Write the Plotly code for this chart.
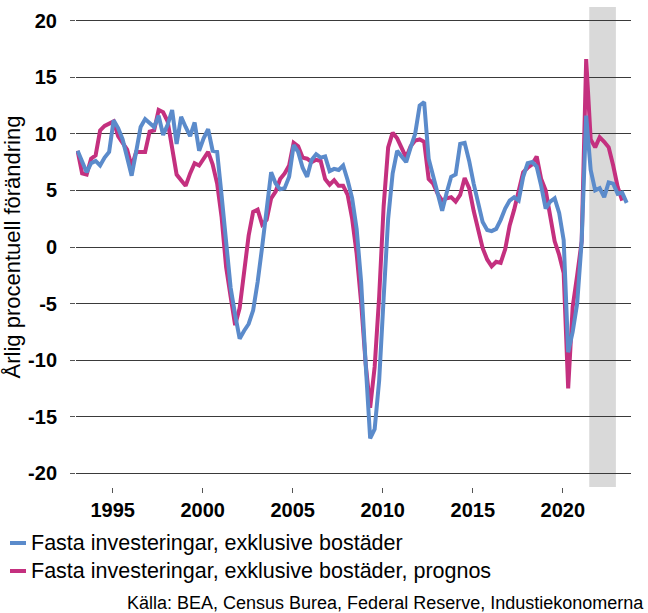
import plotly.graph_objects as go

# Quarterly data, 1993Q1 onwards
start_year = 1993
blue_name = "Fasta investeringar, exklusive bostäder"
pink_name = "Fasta investeringar, exklusive bostäder, prognos"

blue_vals = [
    8.5, 7.5, 6.6, 7.4, 7.6, 7.2, 7.9, 8.4, 11.2, 10.5,
    9.5, 7.9, 6.3, 8.4, 10.6, 11.3, 11.0, 10.6, 11.6, 9.9,
    10.8, 12.1, 9.1, 11.5, 10.6, 9.8, 11.0, 8.5, 9.6, 10.4,
    8.5, 8.4, 4.5, 0.0, -3.6, -6.0, -8.1, -7.4, -6.8, -5.6,
    -3.1, 0.0, 3.4, 6.6, 5.6, 5.1, 5.2, 6.2, 9.0, 8.4,
    7.0, 6.2, 7.7, 8.2, 7.9, 8.0, 6.7, 6.9, 6.8, 7.2,
    5.9, 4.3, 1.6, -3.1, -10.3, -16.9, -16.1, -11.8, -4.5, 2.5,
    6.5, 8.5, 8.0, 7.5, 8.8, 10.0, 12.5, 12.8, 7.8, 6.2,
    4.8, 3.2, 4.8, 6.2, 6.4, 9.1, 9.2, 7.6, 5.6, 3.8,
    2.2, 1.5, 1.4, 1.6, 2.4, 3.4, 4.1, 4.4, 4.1, 6.2,
    7.4, 7.5, 7.1, 5.4, 3.4, 4.0, 4.3, 3.0, 0.6, -9.3,
    -7.5, -5.0, 0.5, 11.6, 6.8, 5.0, 5.2, 4.4, 5.7, 5.6,
    4.7, 4.8, 3.9,
]

pink_vals = [
    8.5, 6.5, 6.4, 7.8, 8.1, 10.3, 10.7, 10.9, 11.1, 9.8,
    9.2, 8.6, 7.1, 8.4, 8.4, 8.4, 10.2, 10.3, 12.1, 11.9,
    11.1, 8.5, 6.4, 5.9, 5.4, 6.5, 7.4, 7.2, 7.8, 8.4,
    7.3, 5.6, 2.6, -1.8, -4.4, -6.9, -5.4, -2.0, 1.0, 3.1,
    3.3, 2.0, 2.4, 4.3, 4.9, 6.0, 6.5, 7.2, 9.2, 8.9,
    7.9, 7.8, 7.5, 7.7, 7.6, 6.0, 5.5, 5.9, 5.4, 5.4,
    4.6, 2.5, -0.6, -4.9, -10.3, -14.2, -10.6, -4.4, 3.6, 8.8,
    10.1, 9.6, 8.8, 7.9, 8.9, 9.4, 9.5, 9.3, 6.0, 5.6,
    4.7, 4.1, 4.3, 4.4, 4.0, 4.6, 6.1, 5.2, 3.2, 1.5,
    -0.1, -1.1, -1.7, -1.3, -1.4, -0.2, 1.9, 3.3, 5.0, 6.6,
    7.0, 7.3, 8.0, 6.0, 5.0, 2.5, 0.5, -0.7, -2.3, -12.5,
    -5.3, -2.5, 0.5, 16.6, 9.5, 8.8, 9.7, 9.3, 8.8, 7.2,
    5.3, 4.1,
]

forecast_band = [2021.47, 2022.95]
x_ticks = [1995, 2000, 2005, 2010, 2015, 2020]
y_ticks = [-20, -15, -10, -5, 0, 5, 10, 15, 20]

def quarter_x(n):
    return [start_year + 0.05 + 0.25 * i for i in range(n)]

FONT = "Liberation Sans, Arial, sans-serif"
BLUE = "#5B8BCB"
PINK = "#C4307F"

fig = go.Figure()
fig.add_vrect(x0=forecast_band[0], x1=forecast_band[1], fillcolor="#D9D9D9",
              line_width=0, layer="below")
fig.add_trace(go.Scatter(x=quarter_x(len(pink_vals)), y=pink_vals, mode="lines",
                         name=pink_name, line=dict(color=PINK, width=4),
                         showlegend=False))
fig.add_trace(go.Scatter(x=quarter_x(len(blue_vals)), y=blue_vals, mode="lines",
                         name=blue_name, line=dict(color=BLUE, width=4),
                         showlegend=False))

fig.update_layout(
    width=648, height=613,
    margin=dict(l=76, r=17, t=7, b=126),
    paper_bgcolor="white", plot_bgcolor="white",
    font=dict(family=FONT, color="black"),
    showlegend=False,
)
fig.update_xaxes(
    range=[1992.96, 2023.79], tickvals=x_ticks, ticktext=[str(t) for t in x_ticks],
    showgrid=False, zeroline=False, showline=False,
    ticks="outside", ticklen=5, tickcolor="#555", tickwidth=1,
    tickfont=dict(family=FONT, size=20, weight="bold", color="black"),
)
fig.update_yaxes(
    range=[-21.2, 21.2], tickvals=y_ticks, ticktext=[str(t) for t in y_ticks],
    showgrid=True, gridcolor="#3a3a3a", gridwidth=1, zeroline=False, showline=False,
    ticks="outside", ticklen=5, tickcolor="#555", tickwidth=1,
    ticklabelstandoff=9,
    tickfont=dict(family=FONT, size=20, weight="bold", color="black"),
    title=dict(text="Årlig procentuell förändring", font=dict(family=FONT, size=22),
               standoff=2),
)

# Manual legend
legend_items = [(blue_name, BLUE, 543), (pink_name, PINK, 571)]
for name, color, ypx in legend_items:
    yp = 1 - (ypx - 7) / 480
    fig.add_shape(type="line", xref="paper", yref="paper",
                  x0=(10 - 76) / 555, x1=(26 - 76) / 555, y0=yp, y1=yp,
                  line=dict(color=color, width=4))
    fig.add_annotation(text=name, xref="paper", yref="paper",
                       x=(29 - 76) / 555, y=yp, xanchor="left", yanchor="middle",
                       showarrow=False, font=dict(family=FONT, size=21.5, color="black"))

fig.add_annotation(text="Källa: BEA, Census Burea, Federal Reserve, Industiekonomerna",
                   xref="paper", yref="paper", x=(646 - 76) / 555, y=1 - (603 - 7) / 480,
                   xanchor="right", yanchor="middle", showarrow=False,
                   font=dict(family=FONT, size=18, color="black"))

fig.write_html("out.html", config={"displayModeBar": False},
               post_script="document.body.style.margin='0';document.body.style.overflow='hidden';")
